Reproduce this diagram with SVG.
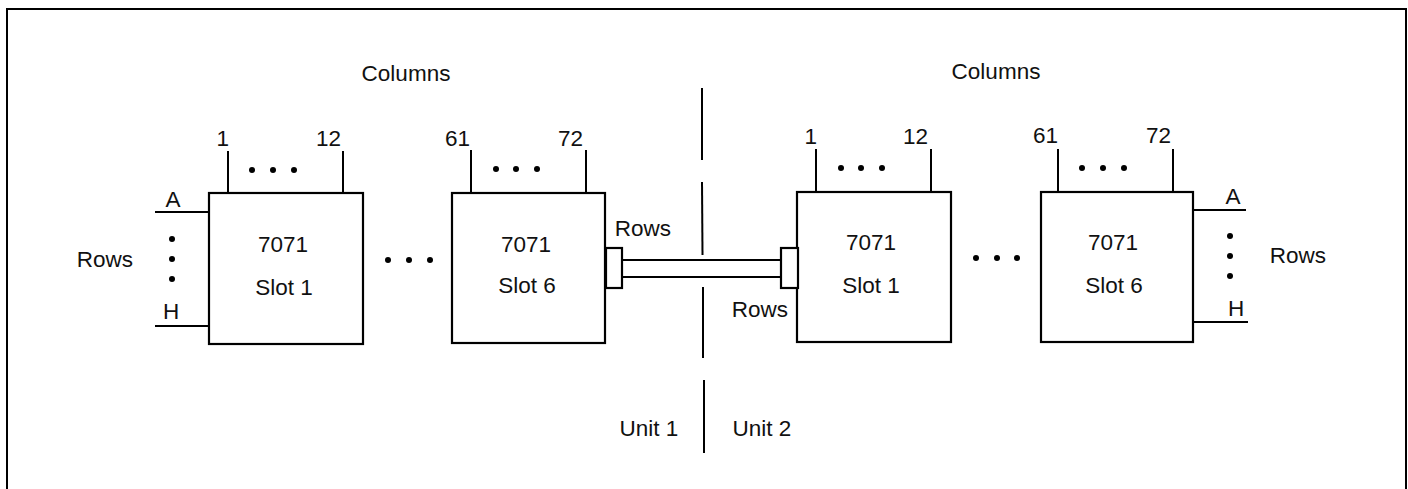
<svg xmlns="http://www.w3.org/2000/svg" width="1408" height="489" viewBox="0 0 1408 489">
<style>
  .t { font-family: "Liberation Sans", Arial, sans-serif; font-size: 22.5px; fill: #111; }
  .m { text-anchor: middle; }
  .e { text-anchor: end; }
  .box { fill: #fff; stroke: #000; stroke-width: 2.2; }
  .ln { stroke: #000; stroke-width: 2; fill: none; }
  .thin { stroke: #000; stroke-width: 1.8; fill: none; }
  .dot { fill: #000; }
</style>
<rect x="0" y="0" width="1408" height="489" fill="#fff"/>
<rect x="7" y="9" width="1399" height="510" fill="none" stroke="#000" stroke-width="2"/>

<!-- Left unit -->
<g id="unit1-labels">
  <text class="t m" x="406" y="81">Columns</text>
  <text class="t m" x="105" y="267">Rows</text>
  <text class="t m" x="173" y="207">A</text>
  <text class="t m" x="171" y="319">H</text>
  <circle class="dot" cx="172" cy="239" r="3"/>
  <circle class="dot" cx="172" cy="259" r="3"/>
  <circle class="dot" cx="172" cy="279" r="3"/>
  <circle class="dot" cx="388" cy="260" r="3"/>
  <circle class="dot" cx="409" cy="260" r="3"/>
  <circle class="dot" cx="430" cy="260" r="3"/>
</g>

<g id="u1-slot1">
  <line class="thin" x1="155" y1="212" x2="209" y2="212"/>
  <line class="thin" x1="155" y1="326" x2="209" y2="326"/>
  <line class="ln" x1="228" y1="151" x2="228" y2="193"/>
  <line class="ln" x1="343" y1="151" x2="343" y2="193"/>
  <text class="t e" x="229" y="146">1</text>
  <text class="t e" x="341" y="146">12</text>
  <circle class="dot" cx="252" cy="170" r="3"/>
  <circle class="dot" cx="273" cy="170" r="3"/>
  <circle class="dot" cx="294" cy="170" r="3"/>
  <rect class="box" x="209" y="193" width="154" height="151"/>
  <text class="t m" x="283" y="252">7071</text>
  <text class="t m" x="284" y="295">Slot 1</text>
</g>

<g id="u1-slot6">
  <line class="ln" x1="471" y1="150" x2="471" y2="193"/>
  <line class="ln" x1="586" y1="150" x2="586" y2="193"/>
  <text class="t e" x="470" y="146">61</text>
  <text class="t e" x="583" y="146">72</text>
  <circle class="dot" cx="496" cy="169" r="3"/>
  <circle class="dot" cx="516" cy="169" r="3"/>
  <circle class="dot" cx="537" cy="169" r="3"/>
  <rect class="box" x="452" y="193" width="153" height="150"/>
  <text class="t m" x="526" y="252">7071</text>
  <text class="t m" x="527" y="293">Slot 6</text>
</g>

<!-- Right unit -->
<g id="unit2-labels">
  <text class="t m" x="996" y="79">Columns</text>
  <text class="t m" x="1298" y="263">Rows</text>
  <text class="t m" x="1233" y="204">A</text>
  <text class="t m" x="1236" y="316">H</text>
  <circle class="dot" cx="1230" cy="236" r="3"/>
  <circle class="dot" cx="1230" cy="256" r="3"/>
  <circle class="dot" cx="1230" cy="276" r="3"/>
  <circle class="dot" cx="976" cy="258" r="3"/>
  <circle class="dot" cx="997" cy="258" r="3"/>
  <circle class="dot" cx="1017" cy="258" r="3"/>
</g>

<g id="u2-slot1">
  <line class="ln" x1="816" y1="149" x2="816" y2="192"/>
  <line class="ln" x1="931" y1="149" x2="931" y2="192"/>
  <text class="t e" x="817" y="144">1</text>
  <text class="t e" x="928" y="144">12</text>
  <circle class="dot" cx="841" cy="168" r="3"/>
  <circle class="dot" cx="861" cy="168" r="3"/>
  <circle class="dot" cx="882" cy="168" r="3"/>
  <rect class="box" x="797" y="192" width="154" height="150"/>
  <text class="t m" x="871" y="250">7071</text>
  <text class="t m" x="871" y="293">Slot 1</text>
</g>

<g id="u2-slot6">
  <line class="thin" x1="1193" y1="210" x2="1246" y2="210"/>
  <line class="thin" x1="1193" y1="322" x2="1248" y2="322"/>
  <line class="ln" x1="1058" y1="149" x2="1058" y2="192"/>
  <line class="ln" x1="1173" y1="149" x2="1173" y2="192"/>
  <text class="t e" x="1058" y="143">61</text>
  <text class="t e" x="1171" y="143">72</text>
  <circle class="dot" cx="1082" cy="168" r="3"/>
  <circle class="dot" cx="1103" cy="168" r="3"/>
  <circle class="dot" cx="1124" cy="168" r="3"/>
  <rect class="box" x="1041" y="192" width="152" height="150"/>
  <text class="t m" x="1113" y="250">7071</text>
  <text class="t m" x="1114" y="293">Slot 6</text>
</g>

<!-- Connectors -->
<g id="connectors">
  <rect class="box" x="606" y="248" width="16" height="40"/>
  <rect class="box" x="781" y="248" width="17" height="40"/>
  <line class="ln" x1="622" y1="260" x2="781" y2="260"/>
  <line class="ln" x1="622" y1="277" x2="781" y2="277"/>
  <text class="t m" x="643" y="236">Rows</text>
  <text class="t m" x="760" y="317">Rows</text>
</g>

<g id="divider">
  <line class="ln" x1="702" y1="88" x2="702" y2="160"/>
  <line class="ln" x1="702" y1="182" x2="702.5" y2="255"/>
  <line class="ln" x1="703" y1="287" x2="703" y2="358"/>
  <line class="ln" x1="704" y1="380" x2="704" y2="453"/>
  <text class="t m" x="649" y="436">Unit 1</text>
  <text class="t m" x="762" y="436">Unit 2</text>
</g>
</svg>
